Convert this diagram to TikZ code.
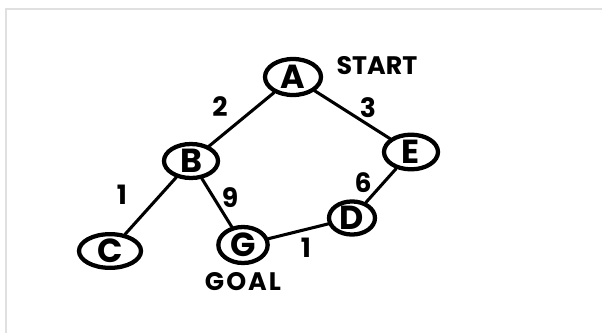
\documentclass[tikz,border=0pt]{standalone}
\usepackage{fontspec}
\setmainfont{Poppins}
\usetikzlibrary{shapes.geometric}
\begin{document}
\begin{tikzpicture}[x=0.75pt,y=-0.75pt,
  vert/.style={ellipse, draw, line width=3.2pt, inner sep=0pt, font=\fontsize{25}{25}\selectfont\bfseries},
  edge/.style={line width=2.3pt, line cap=round},
  wt/.style={inner sep=0pt, font=\fontsize{20}{20}\selectfont\bfseries},
  tag/.style={inner sep=0pt, font=\fontsize{19}{19}\selectfont\bfseries}]
\useasboundingbox (0,0) rectangle (602,332);
\draw[black!12, line width=1.2pt] (6,333) -- (6,9) -- (603,9);
\node[vert, minimum width=42pt, minimum height=27pt] (A) at (293,77) {A};
\node[vert, minimum width=40.5pt, minimum height=25.5pt] (B) at (191,161) {B};
\node[vert, minimum width=40.5pt, minimum height=26pt] (E) at (411,152) {E};
\node[vert, minimum width=46.5pt, minimum height=25pt] (C) at (110,251) {C};
\node[vert, minimum width=37pt, minimum height=27pt] (G) at (243,245) {G};
\node[vert, minimum width=34.5pt, minimum height=22pt] (D) at (352,218) {D};
\draw[edge] (A) -- (B);
\draw[edge] (A) -- (E);
\draw[edge] (B) -- (C);
\draw[edge] (B) -- (G);
\draw[edge] (G) -- (D);
\draw[edge] (D) -- (E);
\node[wt] (wab) at (220,107) {2};
\node[wt] (wae) at (368,108) {3};
\node[wt] (wbc) at (122,195) {1};
\node[wt] (wbg) at (230,198) {9};
\node[wt] (wgd) at (306,248) {1};
\node[wt] (wde) at (363,183) {6};
\node[tag] (start) at (377,66) {START};
\node[tag] (goal) at (243,282) {\addfontfeatures{LetterSpace=8}GOAL};
\end{tikzpicture}
\end{document}
